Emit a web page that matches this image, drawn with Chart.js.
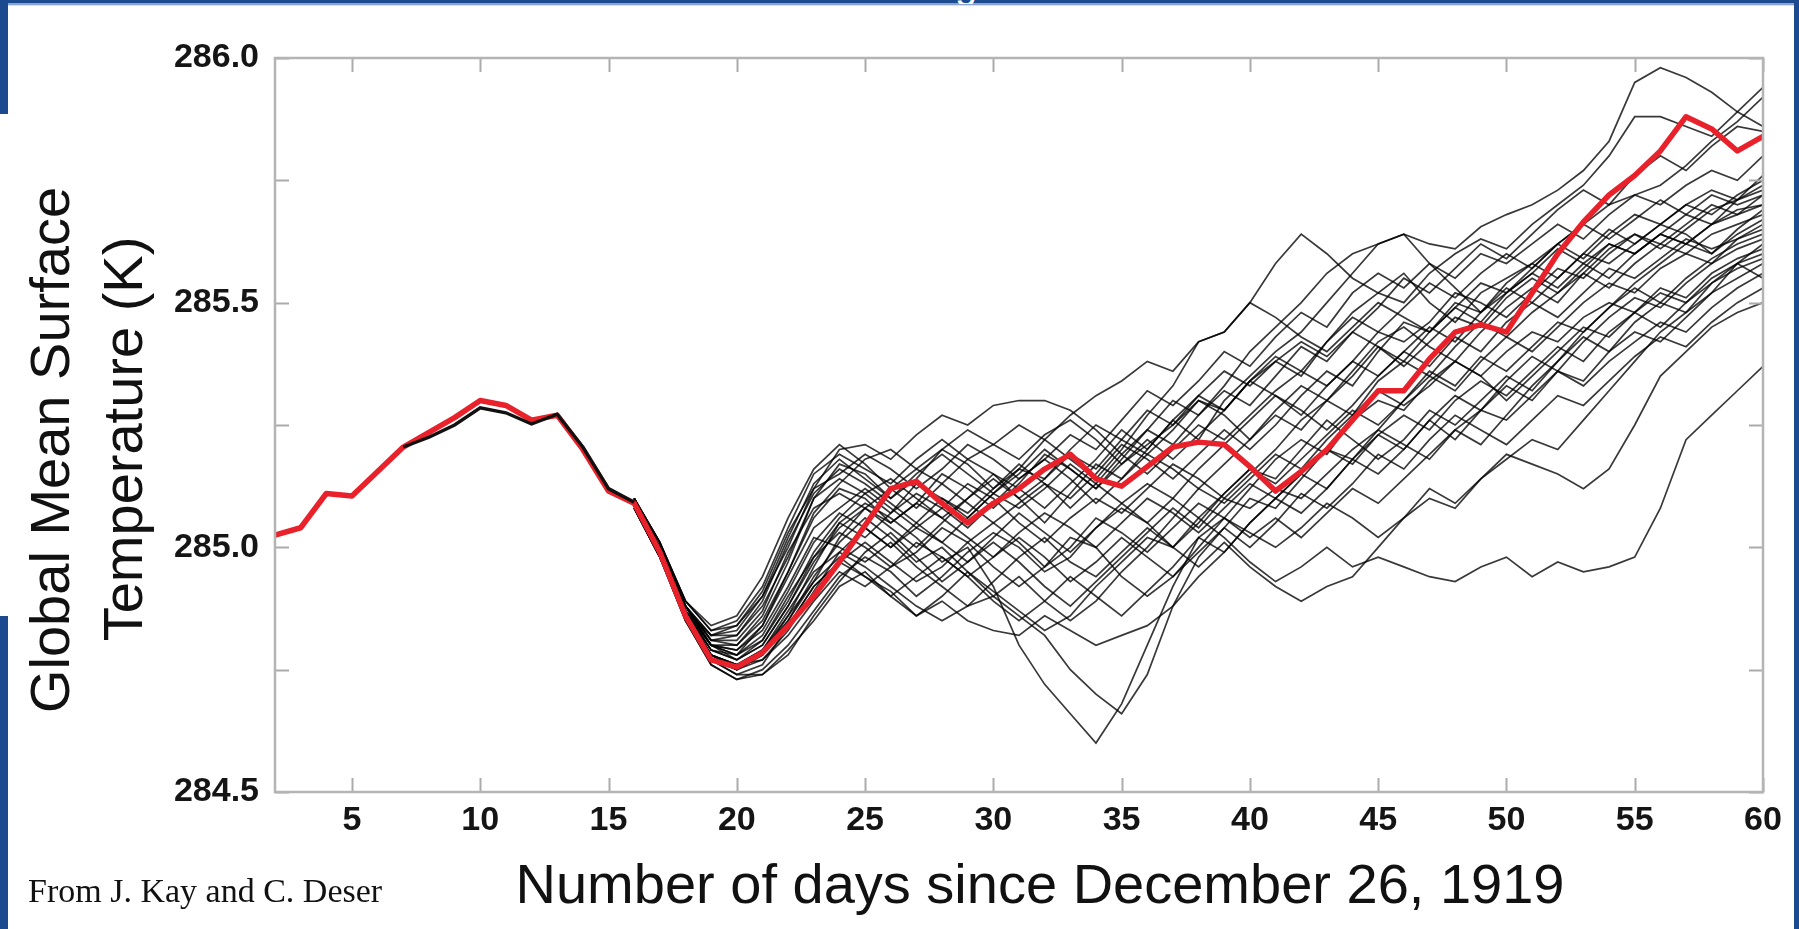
<!DOCTYPE html>
<html>
<head>
<meta charset="utf-8">
<title>Global Mean Surface Temperature ensemble</title>
<script src="https://cdn.jsdelivr.net/npm/chart.js@4.4.1/dist/chart.umd.min.js"></script>
<style>
  html, body { margin: 0; padding: 0; background: #fff; }
  body { width: 1799px; height: 929px; position: relative; overflow: hidden; }
  #chart { position: absolute; left: 0; top: 0; }
  .band { position: absolute; background: #1b4a8e; }
  .topline { position: absolute; left: 0; top: 3px; width: 1799px; height: 2px; background: #8aa4cf; }
  .topline2 { position: absolute; left: 0; top: 5px; width: 1799px; height: 1px; background: #d7e0ee; }
  .clipg { position: absolute; left: 955px; top: 0; width: 26px; height: 4px; overflow: hidden; }
  .clipg span { position: absolute; left: 0; top: -38px; font: 40px 'Liberation Sans', Arial, sans-serif; color: #fff; }
</style>
</head>
<body>
<canvas id="chart" width="1799" height="929"></canvas>
<div class="band" style="left:0;top:0;width:1799px;height:3px;"></div>
<div class="topline"></div>
<div class="topline2"></div>
<div class="clipg"><span>g</span></div>
<div class="band" style="left:0;top:0;width:8px;height:114px;"></div>
<div class="band" style="left:0;top:616px;width:8px;height:313px;"></div>
<div class="band" style="left:1794px;top:0;width:5px;height:929px;"></div>

<script>
// ── axis setup ──
const days = [2, 3, 4, 5, 6, 7, 8, 9, 10, 11, 12, 13, 14, 15, 16, 17, 18, 19, 20,
  21, 22, 23, 24, 25, 26, 27, 28, 29, 30, 31, 32, 33, 34, 35, 36, 37, 38, 39, 40,
  41, 42, 43, 44, 45, 46, 47, 48, 49, 50, 51, 52, 53, 54, 55, 56, 57, 58, 59, 60];
const xTickValues = [5, 10, 15, 20, 25, 30, 35, 40, 45, 50, 55, 60];
const yTickValues = [284.5, 284.75, 285.0, 285.25, 285.5, 285.75, 286.0];
const yTickLabels = ['284.5', '', '285.0', '', '285.5', '', '286.0'];

// ── observed run (red), days 2..60 ──
const redTemp = [
  285.025, 285.04, 285.11, 285.105, 285.155,
  285.205, 285.235, 285.265, 285.30, 285.29,
  285.26, 285.27, 285.20, 285.115, 285.09,
  284.99, 284.86, 284.77, 284.755, 284.785,
  284.84, 284.90, 284.97, 285.045, 285.12,
  285.135, 285.09, 285.05, 285.09, 285.12,
  285.16, 285.19, 285.14, 285.125, 285.165,
  285.205, 285.215, 285.21, 285.165, 285.115,
  285.155, 285.20, 285.26, 285.32, 285.32,
  285.385, 285.44, 285.455, 285.44, 285.52,
  285.60, 285.665, 285.72, 285.76, 285.81,
  285.88, 285.855, 285.81, 285.84
];

// ── ensemble: shared start, days 7..16 ──
const trunkTemp = [285.205, 285.225, 285.25, 285.285, 285.275, 285.252, 285.272, 285.205, 285.12, 285.092];

// ── ensemble members, days 16..60 ──
const mem01 = [285.09, 284.99, 284.87, 284.79, 284.78, 284.84, 284.95, 285.06, 285.12, 285.10,
  285.05, 285.09, 285.15, 285.12, 285.08, 285.13, 285.19, 285.16, 285.12, 285.18,
  285.24, 285.30, 285.27, 285.33, 285.40, 285.45, 285.50, 285.56, 285.60, 285.62,
  285.64, 285.62, 285.61, 285.655, 285.68, 285.70, 285.73, 285.77, 285.83, 285.95,
  285.98, 285.96, 285.93, 285.89, 285.86];
const mem02 = [285.10, 285.00, 284.88, 284.80, 284.77, 284.80, 284.88, 284.98, 285.05, 285.02,
  285.07, 285.13, 285.10, 285.06, 285.11, 285.16, 285.14, 285.20, 285.25, 285.22,
  285.19, 285.24, 285.30, 285.28, 285.34, 285.38, 285.35, 285.42, 285.48, 285.52,
  285.50, 285.56, 285.60, 285.63, 285.61, 285.66, 285.70, 285.74, 285.80, 285.88,
  285.88, 285.86, 285.84, 285.89, 285.94];
const mem03 = [285.09, 285.00, 284.88, 284.81, 284.80, 284.86, 284.97, 285.10, 285.17, 285.15,
  285.10, 285.14, 285.20, 285.17, 285.12, 285.16, 285.22, 285.18, 285.14, 285.20,
  285.27, 285.33, 285.42, 285.44, 285.50, 285.58, 285.64, 285.60, 285.55, 285.52,
  285.56, 285.50, 285.46, 285.52, 285.55, 285.58, 285.62, 285.66, 285.70, 285.72,
  285.74, 285.78, 285.83, 285.87, 285.92];
const mem04 = [285.08, 284.99, 284.86, 284.78, 284.76, 284.79, 284.85, 284.93, 285.02, 285.08,
  285.04, 285.00, 285.05, 285.10, 285.14, 285.10, 285.05, 285.11, 285.17, 285.14,
  285.20, 285.26, 285.22, 285.30, 285.35, 285.40, 285.44, 285.50, 285.56, 285.62,
  285.64, 285.58, 285.53, 285.48, 285.52, 285.56, 285.53, 285.58, 285.62, 285.60,
  285.64, 285.68, 285.66, 285.71, 285.76];
const mem05 = [285.10, 285.00, 284.87, 284.82, 284.84, 284.90, 285.00, 285.12, 285.20, 285.21,
  285.18, 285.23, 285.27, 285.25, 285.29, 285.30, 285.30, 285.28, 285.24, 285.19,
  285.15, 285.20, 285.25, 285.22, 285.27, 285.32, 285.36, 285.33, 285.38, 285.44,
  285.42, 285.46, 285.52, 285.50, 285.47, 285.52, 285.57, 285.55, 285.60, 285.64,
  285.62, 285.66, 285.70, 285.68, 285.72];
const mem06 = [285.09, 284.99, 284.87, 284.78, 284.75, 284.78, 284.86, 284.96, 285.05, 285.09,
  285.06, 285.02, 284.97, 285.00, 284.92, 284.80, 284.72, 284.66, 284.60, 284.68,
  284.80, 284.92, 285.02, 285.06, 285.12, 285.18, 285.22, 285.19, 285.26, 285.30,
  285.28, 285.34, 285.38, 285.35, 285.40, 285.44, 285.42, 285.47, 285.50, 285.48,
  285.52, 285.50, 285.55, 285.58, 285.60];
const mem07 = [285.09, 285.00, 284.88, 284.80, 284.79, 284.83, 284.92, 285.02, 285.00, 284.97,
  285.01, 284.96, 284.92, 284.88, 284.90, 284.86, 284.82, 284.75, 284.70, 284.66,
  284.74, 284.88, 284.98, 285.04, 285.10, 285.08, 285.14, 285.20, 285.18, 285.24,
  285.30, 285.35, 285.32, 285.38, 285.43, 285.40, 285.45, 285.50, 285.54, 285.52,
  285.57, 285.60, 285.58, 285.63, 285.66];
const mem08 = [285.08, 284.98, 284.85, 284.76, 284.73, 284.75, 284.80, 284.87, 284.94, 284.98,
  284.95, 284.90, 284.94, 284.99, 285.03, 285.00, 284.95, 284.98, 285.04, 285.08,
  285.05, 285.00, 285.06, 285.02, 284.97, 284.93, 284.96, 285.00, 284.96, 284.98,
  284.96, 284.94, 284.93, 284.96, 284.98, 284.94, 284.97, 284.95, 284.96, 284.98,
  285.08, 285.22, 285.27, 285.32, 285.37];
const mem09 = [285.09, 284.99, 284.86, 284.77, 284.74, 284.74, 284.79, 284.85, 284.92, 284.95,
  284.90, 284.86, 284.90, 284.95, 284.91, 284.87, 284.83, 284.86, 284.92, 284.97,
  285.02, 285.00, 284.96, 285.01, 284.96, 284.92, 284.89, 284.92, 284.94, 285.00,
  285.06, 285.10, 285.08, 285.14, 285.18, 285.22, 285.20, 285.26, 285.32, 285.38,
  285.44, 285.48, 285.52, 285.58, 285.55];
const mem10 = [285.09, 285.00, 284.87, 284.79, 284.77, 284.81, 284.90, 284.98, 285.03, 285.00,
  284.96, 284.99, 285.04, 285.01, 284.96, 284.92, 284.96, 285.02, 285.00, 284.94,
  284.90, 284.94, 285.00, 285.06, 285.03, 285.00, 285.04, 285.09, 285.06, 285.02,
  285.06, 285.12, 285.09, 285.14, 285.19, 285.17, 285.15, 285.12, 285.16, 285.25,
  285.35, 285.40, 285.45, 285.48, 285.50];
const mem11 = [285.10, 285.00, 284.88, 284.81, 284.81, 284.87, 284.99, 285.08, 285.11, 285.08,
  285.12, 285.16, 285.13, 285.09, 285.05, 285.09, 285.13, 285.10, 285.15, 285.21,
  285.18, 285.14, 285.19, 285.24, 285.20, 285.25, 285.31, 285.36, 285.33, 285.40,
  285.46, 285.44, 285.50, 285.48, 285.54, 285.58, 285.55, 285.60, 285.65, 285.62,
  285.66, 285.70, 285.68, 285.72, 285.75];
const mem12 = [285.09, 284.99, 284.87, 284.78, 284.76, 284.77, 284.83, 284.91, 284.99, 285.04,
  285.00, 285.04, 285.01, 284.97, 285.02, 285.07, 285.03, 284.99, 285.04, 285.09,
  285.13, 285.10, 285.06, 285.11, 285.16, 285.14, 285.20, 285.26, 285.22, 285.18,
  285.22, 285.28, 285.25, 285.30, 285.35, 285.32, 285.38, 285.43, 285.40, 285.46,
  285.50, 285.48, 285.54, 285.58, 285.62];
const mem13 = [285.10, 285.01, 284.89, 284.83, 284.85, 284.92, 285.04, 285.15, 285.19, 285.16,
  285.13, 285.18, 285.22, 285.18, 285.21, 285.25, 285.22, 285.27, 285.31, 285.34,
  285.38, 285.36, 285.42, 285.44, 285.50, 285.47, 285.43, 285.40, 285.45, 285.50,
  285.47, 285.44, 285.49, 285.54, 285.52, 285.56, 285.61, 285.58, 285.55, 285.60,
  285.64, 285.62, 285.66, 285.68, 285.70];
const mem14 = [285.08, 284.98, 284.86, 284.77, 284.74, 284.76, 284.84, 284.92, 284.97, 284.94,
  284.91, 284.86, 284.89, 284.85, 284.83, 284.82, 284.86, 284.83, 284.80, 284.82,
  284.84, 284.88, 284.94, 284.99, 285.05, 285.10, 285.07, 285.12, 285.18, 285.15,
  285.20, 285.26, 285.22, 285.28, 285.33, 285.30, 285.36, 285.34, 285.40, 285.44,
  285.42, 285.47, 285.52, 285.55, 285.58];
const mem15 = [285.09, 285.00, 284.87, 284.80, 284.79, 284.84, 284.94, 285.04, 285.08, 285.12,
  285.08, 285.04, 285.08, 285.13, 285.10, 285.05, 285.01, 285.06, 285.10, 285.07,
  285.12, 285.17, 285.14, 285.10, 285.15, 285.20, 285.26, 285.30, 285.27, 285.34,
  285.38, 285.35, 285.41, 285.46, 285.43, 285.48, 285.52, 285.56, 285.53, 285.58,
  285.62, 285.60, 285.64, 285.66, 285.68];
const mem16 = [285.10, 285.01, 284.88, 284.82, 284.82, 284.88, 284.98, 285.10, 285.14, 285.11,
  285.07, 285.11, 285.08, 285.04, 285.09, 285.14, 285.18, 285.23, 285.20, 285.26,
  285.32, 285.29, 285.34, 285.40, 285.37, 285.43, 285.48, 285.45, 285.52, 285.56,
  285.53, 285.58, 285.55, 285.60, 285.58, 285.62, 285.66, 285.63, 285.68, 285.72,
  285.70, 285.74, 285.77, 285.75, 285.80];
const mem17 = [285.08, 284.98, 284.85, 284.76, 284.73, 284.74, 284.78, 284.86, 284.93, 284.99,
  285.03, 284.98, 284.93, 284.97, 285.01, 284.97, 284.92, 284.88, 284.93, 284.98,
  285.03, 285.08, 285.04, 285.10, 285.08, 285.12, 285.10, 285.15, 285.20, 285.24,
  285.21, 285.18, 285.24, 285.28, 285.26, 285.31, 285.36, 285.33, 285.38, 285.42,
  285.46, 285.44, 285.49, 285.53, 285.56];
const mem18 = [285.09, 284.99, 284.87, 284.80, 284.80, 284.85, 284.95, 285.07, 285.13, 285.18,
  285.20, 285.16, 285.20, 285.24, 285.21, 285.18, 285.23, 285.26, 285.22, 285.17,
  285.21, 285.25, 285.30, 285.27, 285.22, 285.28, 285.33, 285.30, 285.36, 285.42,
  285.45, 285.41, 285.38, 285.44, 285.49, 285.53, 285.50, 285.56, 285.61, 285.64,
  285.61, 285.65, 285.69, 285.71, 285.73];
const mem19 = [285.09, 284.99, 284.86, 284.78, 284.75, 284.79, 284.87, 284.95, 284.99, 284.96,
  284.92, 284.88, 284.85, 284.88, 284.93, 284.98, 285.02, 284.97, 284.94, 284.99,
  285.04, 285.00, 285.05, 285.11, 285.16, 285.13, 285.18, 285.23, 285.28, 285.25,
  285.30, 285.36, 285.33, 285.39, 285.36, 285.41, 285.46, 285.44, 285.49, 285.53,
  285.50, 285.55, 285.59, 285.62, 285.64];
const mem20 = [285.10, 285.00, 284.88, 284.81, 284.82, 284.89, 285.01, 285.11, 285.16, 285.13,
  285.09, 285.05, 285.01, 285.06, 285.11, 285.08, 285.12, 285.17, 285.13, 285.09,
  285.05, 285.10, 285.16, 285.21, 285.26, 285.31, 285.28, 285.24, 285.29, 285.35,
  285.40, 285.37, 285.43, 285.40, 285.46, 285.50, 285.47, 285.52, 285.57, 285.55,
  285.59, 285.63, 285.61, 285.63, 285.65];
const mem21 = [285.09, 285.00, 284.88, 284.80, 284.78, 284.82, 284.91, 285.01, 285.07, 285.04,
  285.00, 285.05, 285.10, 285.07, 285.12, 285.17, 285.13, 285.08, 285.13, 285.19,
  285.24, 285.21, 285.27, 285.32, 285.29, 285.35, 285.41, 285.38, 285.44, 285.49,
  285.55, 285.52, 285.57, 285.62, 285.59, 285.64, 285.69, 285.73, 285.70, 285.76,
  285.80, 285.77, 285.82, 285.86, 285.85];
const mem22 = [285.08, 284.98, 284.86, 284.77, 284.75, 284.78, 284.85, 284.94, 285.01, 285.06,
  285.02, 284.97, 285.00, 284.95, 284.90, 284.94, 284.89, 284.85, 284.89, 284.95,
  285.00, 285.06, 285.12, 285.09, 285.14, 285.19, 285.16, 285.22, 285.27, 285.32,
  285.29, 285.33, 285.38, 285.35, 285.30, 285.35, 285.40, 285.45, 285.43, 285.48,
  285.53, 285.51, 285.56, 285.59, 285.61];
const mem23 = [285.10, 285.01, 284.89, 284.84, 284.86, 284.94, 285.06, 285.16, 285.21, 285.17,
  285.12, 285.08, 285.13, 285.18, 285.15, 285.10, 285.14, 285.19, 285.16, 285.22,
  285.28, 285.25, 285.31, 285.36, 285.33, 285.38, 285.42, 285.39, 285.44, 285.41,
  285.37, 285.42, 285.47, 285.45, 285.51, 285.55, 285.52, 285.57, 285.62, 285.60,
  285.64, 285.62, 285.66, 285.69, 285.70];
const mem24 = [285.09, 284.99, 284.87, 284.79, 284.77, 284.80, 284.88, 284.97, 285.04, 285.08,
  285.05, 285.09, 285.06, 285.02, 284.98, 285.02, 284.98, 284.93, 284.97, 285.02,
  284.98, 284.94, 284.99, 285.04, 285.00, 285.05, 285.11, 285.08, 285.13, 285.19,
  285.16, 285.22, 285.27, 285.24, 285.21, 285.26, 285.31, 285.29, 285.34, 285.39,
  285.43, 285.41, 285.46, 285.50, 285.53];
const mem25 = [285.10, 285.00, 284.88, 284.82, 284.83, 284.90, 285.02, 285.13, 285.18, 285.14,
  285.10, 285.15, 285.19, 285.15, 285.11, 285.15, 285.20, 285.16, 285.12, 285.17,
  285.22, 285.18, 285.23, 285.28, 285.34, 285.31, 285.27, 285.33, 285.38, 285.35,
  285.40, 285.45, 285.42, 285.48, 285.53, 285.50, 285.55, 285.60, 285.58, 285.62,
  285.66, 285.64, 285.60, 285.64, 285.67];
const mem26 = [285.08, 284.98, 284.85, 284.77, 284.75, 284.77, 284.82, 284.89, 284.95, 284.92,
  284.96, 285.01, 284.98, 284.94, 284.98, 285.03, 285.07, 285.04, 285.00, 285.05,
  285.10, 285.07, 285.03, 285.08, 285.13, 285.10, 285.15, 285.20, 285.17, 285.23,
  285.27, 285.24, 285.30, 285.34, 285.31, 285.36, 285.41, 285.38, 285.44, 285.48,
  285.45, 285.50, 285.54, 285.57, 285.59];
const mem27 = [285.09, 285.00, 284.87, 284.80, 284.78, 284.81, 284.89, 284.99, 285.06, 285.11,
  285.14, 285.10, 285.06, 285.10, 285.15, 285.12, 285.08, 285.13, 285.18, 285.24,
  285.20, 285.26, 285.31, 285.28, 285.34, 285.39, 285.36, 285.42, 285.47, 285.44,
  285.49, 285.54, 285.51, 285.56, 285.60, 285.57, 285.62, 285.66, 285.63, 285.67,
  285.71, 285.68, 285.72, 285.70, 285.72];
const mem28 = [285.08, 284.98, 284.86, 284.78, 284.76, 284.79, 284.86, 284.93, 284.98, 284.94,
  284.90, 284.94, 284.98, 284.94, 284.89, 284.85, 284.89, 284.94, 284.90, 284.86,
  284.91, 284.96, 285.02, 284.99, 285.05, 285.10, 285.15, 285.12, 285.18, 285.23,
  285.20, 285.26, 285.31, 285.28, 285.34, 285.39, 285.36, 285.42, 285.47, 285.51,
  285.49, 285.54, 285.58, 285.61, 285.63];
const mem29 = [285.10, 285.01, 284.89, 284.83, 284.84, 284.91, 285.03, 285.12, 285.15, 285.19,
  285.16, 285.12, 285.16, 285.21, 285.18, 285.14, 285.18, 285.14, 285.09, 285.14,
  285.19, 285.16, 285.12, 285.17, 285.22, 285.27, 285.24, 285.30, 285.35, 285.41,
  285.38, 285.44, 285.49, 285.46, 285.52, 285.57, 285.62, 285.59, 285.64, 285.68,
  285.66, 285.70, 285.73, 285.71, 285.74];
const mem30 = [285.09, 284.99, 284.86, 284.78, 284.76, 284.78, 284.84, 284.92, 284.97, 285.01,
  284.97, 284.93, 284.96, 285.01, 285.05, 285.01, 284.96, 285.00, 285.06, 285.03,
  284.99, 285.04, 285.09, 285.06, 285.02, 285.06, 285.02, 285.07, 285.12, 285.09,
  285.14, 285.19, 285.24, 285.21, 285.27, 285.33, 285.38, 285.44, 285.49, 285.54,
  285.58, 285.62, 285.60, 285.65, 285.69];

const ensemble = [mem01, mem02, mem03, mem04, mem05, mem06, mem07, mem08, mem09, mem10,
  mem11, mem12, mem13, mem14, mem15, mem16, mem17, mem18, mem19, mem20,
  mem21, mem22, mem23, mem24, mem25, mem26, mem27, mem28, mem29, mem30];

const memberDays = days.slice(days.indexOf(16));
const trunkDays = days.slice(days.indexOf(7), days.indexOf(16) + 1);

const toPoints = (xs, ys) => ys.map((v, i) => ({ x: xs[i], y: v }));

const FONT = "'Liberation Sans', Arial, Helvetica, sans-serif";

// frame, inward ticks and titles (drawn over the lines)
const framePlugin = {
  id: 'frame',
  afterDraw(chart) {
    const { ctx, chartArea: a, scales: { x, y } } = chart;
    ctx.save();
    ctx.strokeStyle = '#ababab';
    ctx.lineWidth = 2;
    ctx.beginPath();
    x.ticks.forEach(t => {
      const px = Math.round(x.getPixelForValue(t.value)) + 0.5;
      ctx.moveTo(px, a.bottom); ctx.lineTo(px, a.bottom - 14);
      ctx.moveTo(px, a.top); ctx.lineTo(px, a.top + 14);
    });
    y.ticks.forEach(t => {
      const py = Math.round(y.getPixelForValue(t.value)) + 0.5;
      ctx.moveTo(a.left, py); ctx.lineTo(a.left + 14, py);
      ctx.moveTo(a.right, py); ctx.lineTo(a.right - 14, py);
    });
    ctx.stroke();
    ctx.lineWidth = 2.5;
    ctx.strokeStyle = '#b4b4b4';
    ctx.strokeRect(a.left, a.top, a.right - a.left, a.bottom - a.top);

    // axis titles
    ctx.fillStyle = '#111';
    ctx.font = `56px ${FONT}`;
    ctx.textAlign = 'center';
    ctx.textBaseline = 'alphabetic';
    ctx.fillText('Number of days since December 26, 1919', 1040, 903);

    ctx.save();
    ctx.translate(0, 0);
    ctx.rotate(-Math.PI / 2);
    ctx.textBaseline = 'middle';
    ctx.fillText('Global Mean Surface', -450, 54);
    ctx.fillText('Temperature (K)', -439, 127);
    ctx.restore();

    // credit
    ctx.font = `34px 'Liberation Serif', 'Times New Roman', serif`;
    ctx.textAlign = 'left';
    ctx.fillText('From J. Kay and C. Deser', 28, 902);
    ctx.restore();
  }
};

const datasets = [];
ensemble.forEach((m, i) => {
  datasets.push({
    label: 'member ' + (i + 1),
    data: toPoints(memberDays, m),
    borderColor: 'rgba(0, 0, 0, 0.78)',
    borderWidth: 1.7,
    pointRadius: 0,
    tension: 0,
    order: 3
  });
});
datasets.push({
  label: 'observed',
  data: toPoints(days, redTemp),
  borderColor: '#e8212b',
  borderWidth: 5.5,
  pointRadius: 0,
  tension: 0,
  borderJoinStyle: 'round',
  order: 2
});
datasets.push({
  label: 'ensemble start',
  data: toPoints(trunkDays, trunkTemp),
  borderColor: '#111',
  borderWidth: 3.4,
  pointRadius: 0,
  tension: 0,
  order: 1
});

const tickFont = { family: FONT, size: 34, weight: 'bold' };

new Chart(document.getElementById('chart'), {
  type: 'line',
  data: { datasets },
  plugins: [framePlugin],
  options: {
    responsive: false,
    animation: false,
    devicePixelRatio: 1,
    layout: { padding: { left: 0, right: 36, top: 58, bottom: 0 } },
    plugins: { legend: { display: false }, tooltip: { enabled: false } },
    scales: {
      x: {
        type: 'linear',
        min: 2,
        max: 60,
        grid: { display: false },
        border: { display: false },
        afterBuildTicks: s => { s.ticks = xTickValues.map(v => ({ value: v })); },
        afterFit: s => { s.height = 137; },
        ticks: {
          autoSkip: false,
          maxRotation: 0,
          padding: 0,
          color: '#151515',
          font: tickFont,
          callback: v => String(v)
        }
      },
      y: {
        type: 'linear',
        min: 284.5,
        max: 286.0,
        grid: { display: false },
        border: { display: false },
        afterBuildTicks: s => { s.ticks = yTickValues.map(v => ({ value: v })); },
        afterFit: s => { s.width = 275; },
        ticks: {
          autoSkip: false,
          padding: 8,
          color: '#151515',
          font: tickFont,
          callback: (v, i) => yTickLabels[i]
        }
      }
    }
  }
});
</script>
</body>
</html>
